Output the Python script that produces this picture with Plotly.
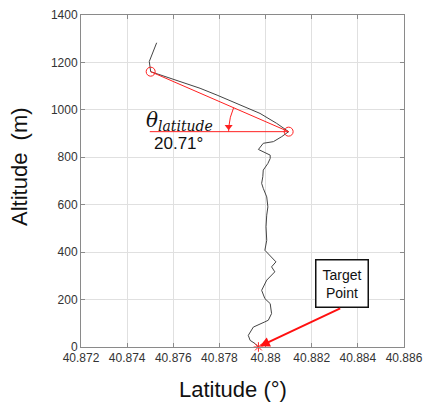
import math
import plotly.graph_objects as go

# ---- data ----
latitude = [40.87528, 40.87496, 40.87502, 40.87620, 40.87716, 40.87790, 40.87860, 40.87920, 40.87976,
            40.88048, 40.88100, 40.88070, 40.88034, 40.87990, 40.87969, 40.88020, 40.88020,
            40.88010, 40.87990, 40.87988, 40.87983, 40.87990, 40.88005, 40.88010, 40.88005,
            40.88002, 40.88005, 40.87997, 40.88033, 40.88045, 40.88026, 40.88040, 40.88005,
            40.87983, 40.87997, 40.88020, 40.88026, 40.88012, 40.87997, 40.87947, 40.87925,
            40.87933, 40.87955, 40.87969]
altitude = [1283, 1204, 1161, 1123, 1091, 1062, 1034, 1010, 985,
            943, 908, 887, 866, 859, 833, 809, 795,
            774, 746, 718, 690, 669, 633, 591, 556,
            507, 450, 408, 373, 359, 338, 317, 282,
            239, 204, 183, 141, 113, 106, 84, 49,
            28, 14, 0]
start_pt = (40.87502, 1161)
turn_pt = (40.88100, 908)
target_pt = (40.87969, 0)
angle_label = "20.71°"
x_ticks = [40.872, 40.874, 40.876, 40.878, 40.88, 40.882, 40.884, 40.886]
x_ticktext = ["40.872", "40.874", "40.876", "40.878", "40.88", "40.882", "40.884", "40.886"]
y_ticks = [0, 200, 400, 600, 800, 1000, 1200, 1400]

# ---- layout constants ----
W, H = 423, 403
ml, mr, mt, mb = 81, 19, 15, 56
xr = [40.872, 40.886]
yr = [0, 1400]
pw, ph = W - ml - mr, H - mt - mb
sx = pw / (xr[1] - xr[0])
sy = ph / (yr[1] - yr[0])

fig = go.Figure()

# trajectory
fig.add_trace(go.Scatter(x=latitude, y=altitude, mode="lines",
                         line=dict(color="#444444", width=1), hoverinfo="skip"))

# red slant and horizontal reference lines
horiz_start = start_pt[0] - 0.00004
fig.add_trace(go.Scatter(x=[start_pt[0], turn_pt[0]], y=[start_pt[1], turn_pt[1]], mode="lines",
                         line=dict(color="#ff2020", width=1), hoverinfo="skip"))
fig.add_trace(go.Scatter(x=[horiz_start, turn_pt[0]], y=[turn_pt[1], turn_pt[1]], mode="lines",
                         line=dict(color="#ff2020", width=1), hoverinfo="skip"))

# angle arc (computed in pixel space)
dxp = (start_pt[0] - turn_pt[0]) * sx
dyp = (start_pt[1] - turn_pt[1]) * sy
a0 = math.atan2(dyp, dxp)
r = 60
n = 30
arc_x, arc_y = [], []
for i in range(n + 1):
    a = a0 + (math.pi - a0) * i / n
    arc_x.append(turn_pt[0] + r * math.cos(a) / sx)
    arc_y.append(turn_pt[1] + r * math.sin(a) / sy)
fig.add_trace(go.Scatter(x=arc_x, y=arc_y, mode="lines",
                         line=dict(color="#ff2020", width=1), hoverinfo="skip"))
fig.add_trace(go.Scatter(x=[arc_x[-1]], y=[arc_y[-1] + 5 / sy], mode="markers",
                         marker=dict(symbol="triangle-down", size=7, color="#ff2020"),
                         hoverinfo="skip"))

# circles and target star
fig.add_trace(go.Scatter(x=[start_pt[0], turn_pt[0]], y=[start_pt[1], turn_pt[1]], mode="markers",
                         marker=dict(symbol="circle-open", size=9, color="#ff2020",
                                     line=dict(width=1)), hoverinfo="skip"))
fig.add_trace(go.Scatter(x=[target_pt[0]], y=[target_pt[1]], mode="markers",
                         marker=dict(symbol="asterisk-open", size=8, color="#ff2020",
                                     line=dict(width=1, color="#ff2020")),
                         hoverinfo="skip", cliponaxis=False))

# annotations
fig.add_annotation(x=40.87625, y=953, xref="x", yref="y", showarrow=False,
                   text="<i>θ</i><sub><i>latitude</i></sub>",
                   font=dict(family="DejaVu Serif", size=20, color="#111111"))
fig.add_annotation(x=40.87622, y=858, xref="x", yref="y", showarrow=False,
                   text=angle_label, font=dict(family="Liberation Sans, Arial", size=17, color="#111111"))
fig.add_annotation(x=40.88331, y=266, xref="x", yref="y", showarrow=False,
                   text="Target<br>Point", font=dict(family="Liberation Sans, Arial", size=14, color="#111111"),
                   bordercolor="#111111", borderwidth=1.5, borderpad=6, bgcolor="white")
fig.add_annotation(x=target_pt[0] + 0.00006, y=target_pt[1] + 3, ax=40.8833, ay=166,
                   xref="x", yref="y", axref="x", ayref="y", showarrow=True, text="",
                   arrowhead=2, arrowsize=1, arrowwidth=2, arrowcolor="#ff1010")

# axis titles (positions in page pixels, converted to paper fractions below)
fig.add_annotation(x=19, y=167, xref="paper", yref="paper", showarrow=False,
                   xanchor="center", yanchor="middle",
                   text="Altitude  (m)", textangle=-90,
                   font=dict(family="Liberation Sans, Arial", size=22, color="#111111"))
fig.add_annotation(x=233, y=389, xref="paper", yref="paper", showarrow=False,
                   xanchor="center", yanchor="middle",
                   text="Latitude (°)",
                   font=dict(family="Liberation Sans, Arial", size=22, color="#111111"))

axis_common = dict(showgrid=True, gridcolor="#e0e0e0", gridwidth=1, showline=True,
                   linecolor="#8a8a8a", linewidth=1, mirror="ticks", ticks="inside",
                   ticklen=4, tickcolor="#8a8a8a", zeroline=False, automargin=False,
                   tickfont=dict(family="Liberation Sans, Arial", size=12, color="#333333"))

fig.update_layout(
    width=W, height=H, margin=dict(l=ml, r=mr, t=mt, b=mb, autoexpand=False),
    paper_bgcolor="white", plot_bgcolor="white", showlegend=False,
    xaxis=dict(range=xr, tickvals=x_ticks, ticktext=x_ticktext, **axis_common),
    yaxis=dict(range=yr, tickvals=y_ticks, **axis_common),
)
for ann in fig.layout.annotations:
    if ann.xref == "paper":
        ann.x = (ann.x - ml) / pw
        ann.y = ((H - ann.y) - mb) / ph

fig.write_html("out.html", config={"displayModeBar": False})

# remove the default page margin so the figure fills the window exactly
with open("out.html", "r", encoding="utf-8") as f:
    html = f.read()
html = html.replace("<head>", "<head><style>html,body{margin:0;padding:0;overflow:hidden;}</style>", 1)
with open("out.html", "w", encoding="utf-8") as f:
    f.write(html)
